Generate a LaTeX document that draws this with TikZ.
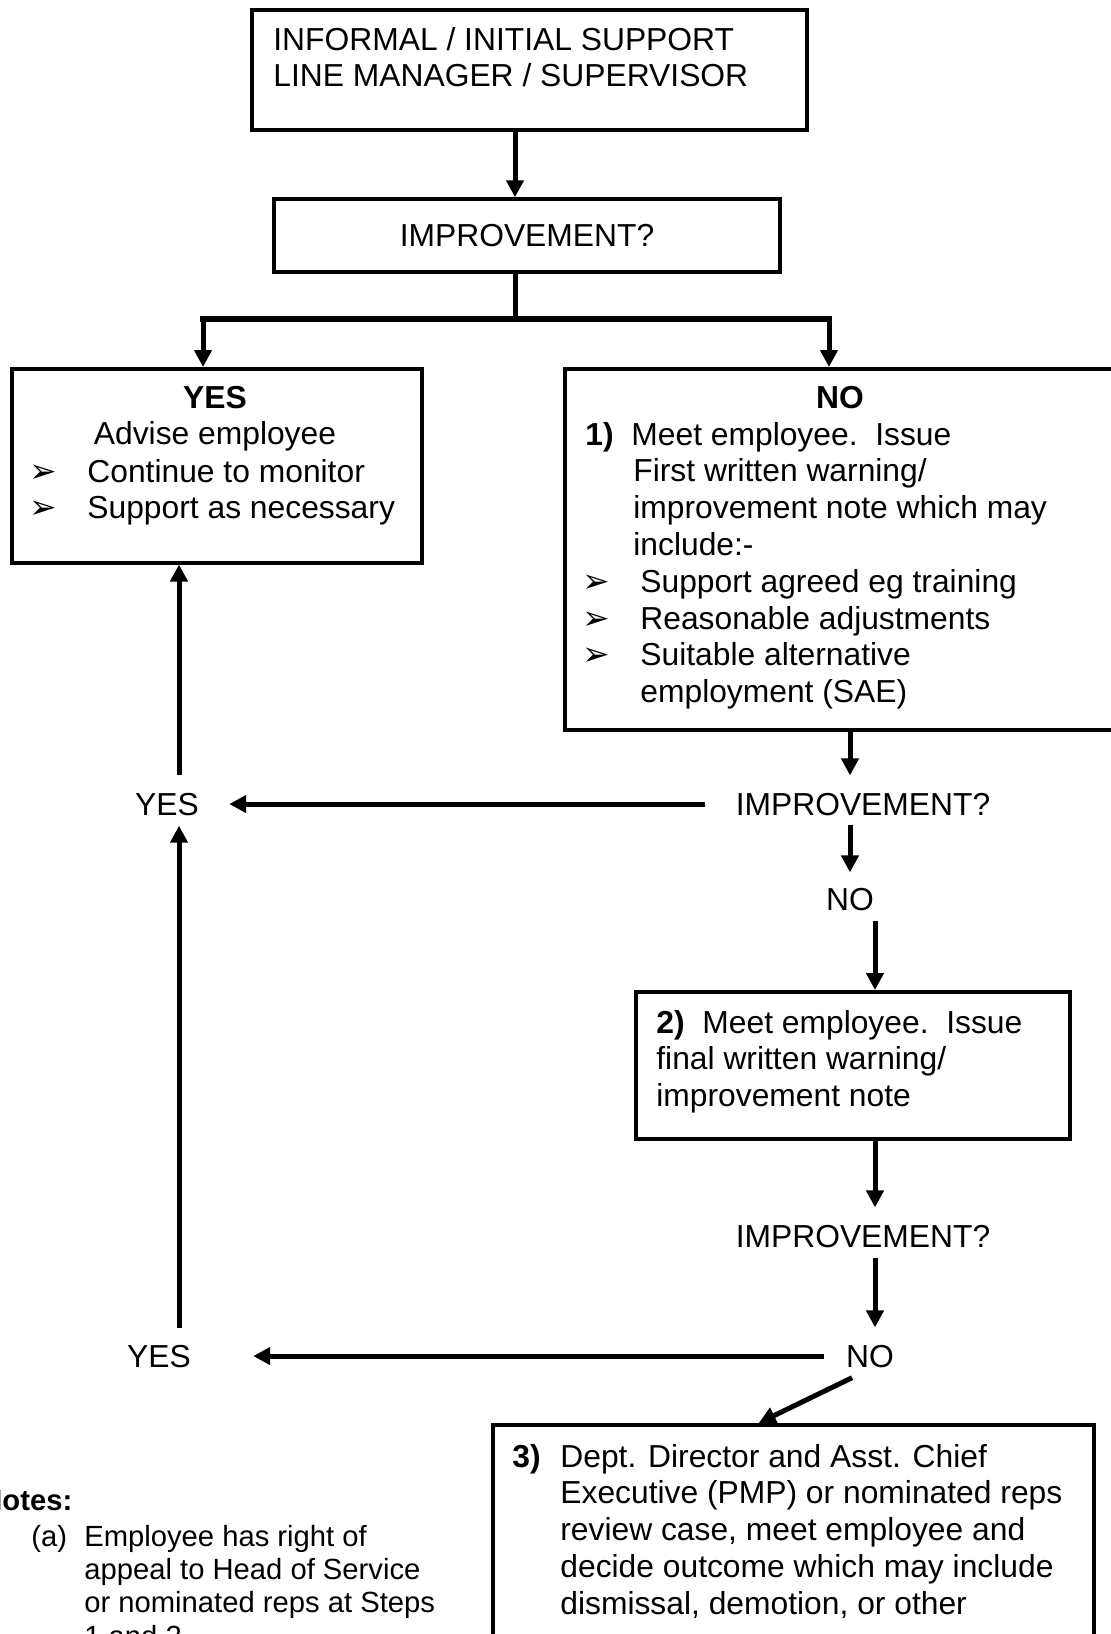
\documentclass[tikz,border=0pt]{standalone}
\usepackage{fontspec}
\setmainfont{Liberation Sans}
\newfontfamily\dejavu{DejaVu Sans}
\usetikzlibrary{arrows.meta}
\newcommand\bigf{\fontsize{15.9}{18.4}\selectfont}
\newcommand\smallf{\fontsize{14.6}{16.7}\selectfont}
\newcommand\bul{\kern-3pt{\dejavu\fontsize{16.5}{16.5}\selectfont ➢}}
\begin{document}
\begin{tikzpicture}[x=.5pt, y=-.5pt,
	box/.style={draw, line width=1.75pt, inner sep=0, anchor=north west},
	txt/.style={inner sep=0, anchor=base west, align=left, font=\bigf},
	lbl/.style={inner sep=0, anchor=base, font=\bigf},
	arr/.style={line width=2.5pt, -{Triangle[length=8.5pt,width=8.5pt]}}]
	\useasboundingbox (0,0) rectangle (1111,1634);
	% boxes
	\node[box, minimum width=277.5pt, minimum height=60pt] (top) at (250,8) {};
	\node[box, anchor=center, minimum width=253pt, minimum height=36.5pt, font=\bigf] (imp) at (527,235.5) {IMPROVEMENT?};
	\node[box, minimum width=205pt, minimum height=97pt] (yesbox) at (10,367) {};
	\node[box, minimum width=285pt, minimum height=180.5pt] (nobox) at (563,367) {};
	\node[box, minimum width=217pt, minimum height=73.5pt] (step2) at (634,990) {};
	\node[box, minimum width=300.5pt, minimum height=120pt] (step3) at (491,1423) {};
	% texts (anchored at the last line)
	\node[txt] (toptxt) at (273,86.8) {INFORMAL / INITIAL SUPPORT\\LINE MANAGER / SUPERVISOR};
	\node[lbl, align=center] (yeshead) at (215,444.8) {\textbf{YES}\\Advise employee};
	\node[txt] (yeslist) at (35,518.8) {\makebox[26pt][l]{\bul}Continue to monitor\\
		\makebox[26pt][l]{\bul}Support as necessary};
	\node[lbl] (nohead) at (840,408) {\textbf{NO}};
	\node[txt] (notxt) at (585,702.6) {\makebox[23pt][l]{\textbf{1)}}Meet employee.\ \ Issue\\
		\hspace*{24pt}First written warning/\\
		\hspace*{24pt}improvement note which may\\
		\hspace*{24pt}include:-\\
		\hspace*{1.5pt}\makebox[26pt][l]{\bul}Support agreed eg training\\
		\hspace*{1.5pt}\makebox[26pt][l]{\bul}Reasonable adjustments\\
		\hspace*{1.5pt}\makebox[26pt][l]{\bul}Suitable alternative\\
		\hspace*{27.5pt}employment (SAE)};
	\node[txt] (step2txt) at (656,1106.6) {\makebox[23pt][l]{\textbf{2)}}Meet employee.\ \ Issue\\
		final written warning/\\improvement note};
	\node[txt] (step3txt) at (512,1614.2) {\makebox[24pt][l]{\textbf{3)}}Dept. Director and Asst. Chief\\
		\hspace*{24pt}Executive (PMP) or nominated reps\\
		\hspace*{24pt}review case, meet employee and\\
		\hspace*{24pt}decide outcome which may include\\
		\hspace*{24pt}dismissal, demotion, or other};
	\node[txt, font=\smallf] (notes) at (-19,1510) {\textbf{Notes:}};
	\node[txt, font=\smallf] (notea) at (31,1646.2) {\makebox[26.5pt][l]{(a)}Employee has right of\\
		\hspace*{26.5pt}appeal to Head of Service\\
		\hspace*{26.5pt}or nominated reps at Steps\\
		\hspace*{26.5pt}1 and 2};
	% labels
	\node[lbl] (imp2) at (863,815) {IMPROVEMENT?};
	\node[lbl] (yes1) at (167,815) {YES};
	\node[lbl] (no1) at (850,910) {NO};
	\node[lbl] (imp3) at (863,1247) {IMPROVEMENT?};
	\node[lbl] (no2) at (870,1367) {NO};
	\node[lbl] (yes2) at (159,1367) {YES};
	\coordinate (split) at (515,319);
	\coordinate (splitl) at (203,319);
	\coordinate (splitr) at (829,319);
	\coordinate (lc) at (179,0);
	\coordinate (rc) at (875,0);
	% connectors
	\draw[arr] (top.south -| split) -- (imp.north -| split);
	\draw[line width=2.5pt] (imp.south -| split) -- (split);
	\draw[line width=3pt, line cap=rect] (splitl) -- (splitr);
	\draw[arr] (splitl) -- (yesbox.north -| splitl);
	\draw[arr] (splitr) -- (nobox.north -| splitr);
	\draw[arr, shorten >=8.5pt] (nobox.south -| no1) -- (imp2.north -| no1);
	\draw[arr, shorten <=4.5pt, shorten >=7.5pt] (imp2.south -| no1) -- (no1.north);
	\draw[arr, shorten <=5pt] (no1.south -| rc) -- (step2.north -| rc);
	\draw[arr, shorten >=8.5pt] (step2.south -| rc) -- (imp3.north -| rc);
	\draw[arr, shorten <=5pt, shorten >=8.5pt] (imp3.south -| rc) -- (no2.north -| rc);
	\draw[arr, shorten <=15pt, shorten >=15pt] (imp2.west) -- (yes1.east);
	\draw[arr, shorten <=11pt, shorten >=31pt] (no2.west) -- (yes2.east);
	\draw[arr, shorten <=8.5pt] (yes1.north -| lc) -- (yesbox.south -| lc);
	\draw[arr, shorten <=8pt, shorten >=5pt] (yes2.north -| lc) -- (yes1.south -| lc);
	\draw[arr] ([xshift=-9pt, yshift=-5pt]no2.south) -- ([xshift=-17.25pt]step3.north);
\end{tikzpicture}
\end{document}
